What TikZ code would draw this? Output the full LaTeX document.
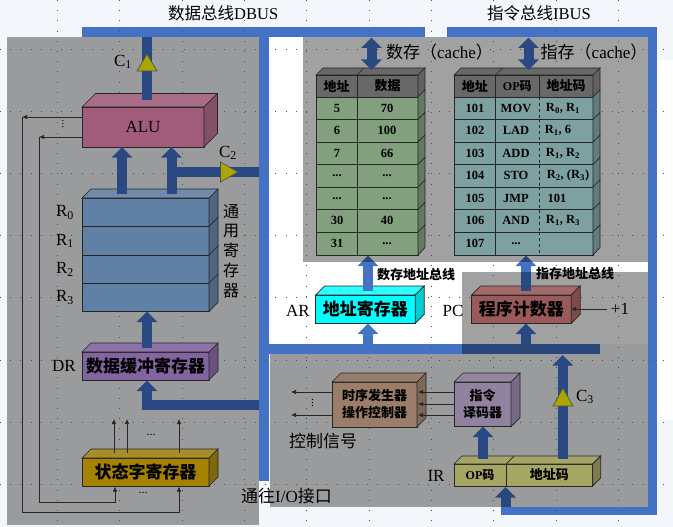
\documentclass[tikz,border=0pt]{standalone}
\usepackage{fontspec}
\setmainfont{Liberation Serif}
\newfontfamily\zhfont{Noto Sans CJK SC}
\usepackage{xcolor}
\usetikzlibrary{positioning,calc,arrows.meta}

\definecolor{busblue}{RGB}{68,114,196}
\definecolor{busdark}{RGB}{42,72,130}
\definecolor{gateyel}{RGB}{170,165,0}
\definecolor{paper}{RGB}{243,246,250}
\definecolor{headgrey}{RGB}{104,104,104}
\definecolor{datagreen}{RGB}{130,160,125}
\definecolor{codeteal}{RGB}{125,160,160}
\definecolor{arcyan}{RGB}{0,255,255}

\newcommand{\sz}[1]{\fontsize{#1}{#1}\selectfont}
\newcommand{\zh}[1]{{\zhfont #1}}
\newcommand{\dts}{...}

% top and side faces behind a node
\newcommand{\boxsides}[4]{%
	\draw[edge, fill=#3] (#1.north west) -- ++(#2,-#2) -- ($(#1.north east)+(#2,-#2)$) -- (#1.north east) -- cycle;
	\draw[edge, fill=#4] (#1.north east) -- ++(#2,-#2) -- ($(#1.south east)+(#2,-#2)$) -- (#1.south east) -- cycle;
}

\tikzset{
	edge/.style={draw=black!85, line width=0.7pt},
	regbox/.style={edge, anchor=north west, inner sep=0pt, outer sep=0pt},
	panel/.style={fill=black, opacity=0.37},
	gridline/.style={black!70, line width=0.6pt, dash pattern=on 0.7pt off 9.5pt},
	busfill/.style={fill=busblue},
	dkarrow/.style={busdark, line width=10pt, -{Triangle[width=20pt,length=10.5pt]}},
	ltarrow/.style={busblue, line width=10pt, -{Triangle[width=20pt,length=10.5pt]}},
	dkboth/.style={busdark, line width=10pt, {Triangle[width=20pt,length=10.5pt]}-{Triangle[width=20pt,length=10.5pt]}},
	sigline/.style={black!85, line width=0.7pt},
	sigarrow/.style={sigline, -{Latex[length=5pt,width=4.5pt]}},
	gate/.style={draw=black!70, line width=0.6pt, fill=gateyel},
	cell/.style={font=\sz{12.5}\bfseries, inner sep=0pt},
	lbl/.style={font=\sz{17}, inner sep=0pt}
}

\begin{document}
\begin{tikzpicture}[x=1pt,y=-1pt,line join=miter]
	\useasboundingbox (0,0) rectangle (673,527);

	% ---- background
	\fill[paper] (0,0) rectangle (673,527);
	\fill[white] (269,37) rectangle (648,344);
	\fill[white] (657,60) rectangle (673,420);

	% ---- buses, the panels darken them
	\fill[busfill] (82,27) rectangle (425,37);
	\fill[busfill] (259,27) rectangle (269,481);
	\fill[busfill] (269,344) rectangle (600,354);
	\fill[busfill] (447,27) rectangle (657,37);
	\fill[busfill] (648,27) rectangle (657,515);
	\fill[busfill] (501,507) rectangle (657,515);

	\coordinate (arT) at (368,291);
	\coordinate (pcT) at (526,291);
	\coordinate (irB) at (505.5,511);
	\draw[ltarrow] (arT) -- (368,255.5);
	\draw[ltarrow] (pcT) -- (526,255.5);
	\draw[ltarrow] (irB) -- (505.5,487);

	% ---- panels
	\fill[panel] (7,37) rectangle (259,525);
	\fill[panel] (303,37) rectangle (648,262);
	\fill[panel] (462,272) rectangle (648,354);
	\fill[panel] (270,354) rectangle (648,507);

	% ---- dotted grid
	\foreach \gx in {57,119.5,182,244,306.5,369,431,493.5,556,618}{
		\draw[gridline] (\gx,0) -- (\gx,527);
	}
	\foreach \gy in {49,111,173,235,297,360,422,484}{
		\draw[gridline] (0,\gy) -- (673,\gy);
	}

	% ---- titles
	\node[lbl, anchor=west, font=\sz{16.5}] (dbusT) at (168,13) {\zh{数据总线}DBUS};
	\node[lbl, anchor=west, font=\sz{16.5}] (ibusT) at (487,13) {\zh{指令总线}IBUS};

	% ---- ALU
	\node[regbox, fill={rgb,255:red,160;green,92;blue,122}, minimum width=122pt, minimum height=40pt, font=\sz{17}] (alu) at (82,107) {ALU};
	\boxsides{alu}{13.5}{{rgb,255:red,168;green,108;blue,134}}{{rgb,255:red,132;green,80;blue,104}}

	% ---- general registers
	\foreach \i/\ry in {0/198,1/226.5,2/255,3/283}{
		\node[regbox, fill={rgb,255:red,96;green,128;blue,165}, minimum width=127pt, minimum height=28.5pt] (r\i) at (82,\ry) {};
		\draw[edge, fill={rgb,255:red,78;green,102;blue,130}] (r\i.north east) -- ++(9,-9) -- ++(0,28.5) -- (r\i.south east) -- cycle;
		\node[lbl] (rn\i) at (65,\ry+14.5) {R\textsubscript{\i}};
	}
	\draw[edge, fill={rgb,255:red,112;green,140;blue,170}] (r0.north west) -- ++(9,-9) -- ($(r0.north east)+(9,-9)$) -- (r0.north east) -- cycle;
	\node[lbl, font=\sz{16}\zhfont, align=center, anchor=north, text width=18pt] (rgT) at (231,204) {通\\[3.8pt]用\\[3.8pt]寄\\[3.8pt]存\\[3.8pt]器};

	% ---- DR
	\node[regbox, fill={rgb,255:red,130;green,100;blue,160}, minimum width=127pt, minimum height=28pt, font=\sz{17}\zhfont\bfseries] (dr) at (82,352) {数据缓冲寄存器};
	\boxsides{dr}{9}{{rgb,255:red,140;green,115;blue,168}}{{rgb,255:red,105;green,82;blue,130}}
	\node[lbl] (drL) at (64,366) {DR};

	% ---- status word
	\node[regbox, fill={rgb,255:red,165;green,130;blue,0}, minimum width=127pt, minimum height=28pt, font=\sz{17}\zhfont\bfseries] (psw) at (82,458) {状态字寄存器};
	\boxsides{psw}{9}{{rgb,255:red,168;green,142;blue,40}}{{rgb,255:red,128;green,104;blue,10}}

	% ---- ALU feedback
	\coordinate (fa) at (22,117);
	\coordinate (fb) at (39,137);
	\coordinate (sa) at (179,486.5);
	\coordinate (sb) at (115,486.5);
	\draw[sigarrow] (alu.west |- fa) -- (fa);
	\draw[sigarrow] (alu.west |- fb) -- (fb);
	\draw[sigarrow] (fa) -- (22,512) -- (179,512) -- (sa);
	\draw[sigarrow] (fb) -- (39,502.5) -- (115,502.5) -- (sb);
	\foreach \sx in {114,127,179}{
		\coordinate (up\sx) at (\sx,453);
		\draw[sigarrow] (up\sx) -- (\sx,419);
	}
	\node[cell, font=\sz{11}] (dotsA) at (63,124) {\rotatebox{90}{...}};
	\node[cell, font=\sz{12}] (dotsB) at (151,435) {...};
	\node[cell, font=\sz{12}] (dotsC) at (143,493) {...};

	% ---- thick connectors, left side
	\coordinate (rgA) at (122,194);
	\coordinate (rgB) at (171.5,194);
	\coordinate (aluT) at (147,100);
	\coordinate (drT) at (147,348);
	\coordinate (drB) at (259,405);
	\draw[busdark, line width=10pt] (aluT) -- (147,37);
	\draw[dkarrow] (rgA) -- (rgA |- alu.south);
	\draw[dkarrow] (rgB) -- (rgB |- alu.south);
	\draw[busdark, line width=10pt] (171.5,172) -- (259,172);
	\draw[dkarrow] (drT) -- (drT |- r3.south);
	\draw[dkarrow] (drB) -- (147,405) -- (147,380.5);

	% ---- gates
	\filldraw[gate] (137,71) -- (147,54) -- (157,71) -- cycle;
	\node[lbl] (c1) at (123,62) {C\textsubscript{1}};
	\filldraw[gate] (220.5,162) -- (238,172) -- (220.5,182) -- cycle;
	\node[lbl] (c2) at (228,153) {C\textsubscript{2}};

	% ---- data cache
	\node[lbl, anchor=west, font=\sz{17}] (dcT) at (386,52) {\zh{数存（}cache\zh{）}};
	\node[regbox, fill=headgrey, minimum width=41pt, minimum height=22pt, font=\sz{13}\zhfont\bfseries] (dh1) at (316,75) {地址};
	\node[regbox, fill=headgrey, minimum width=61pt, minimum height=22pt, font=\sz{13}\zhfont\bfseries] (dh2) at (357,75) {数据};
	\draw[edge, fill=headgrey] (dh1.north west) -- ++(7,-7) -- ($(dh2.north east)+(7,-7)$) -- (dh2.north east) -- cycle;
	\draw[edge] (dh1.north east) -- ++(7,-7);
	\draw[edge, fill=black!62] (dh2.north east) -- ++(7,-7) -- ++(0,22) -- (dh2.south east) -- cycle;
	\foreach \ya/\yb/\ca/\cb [count=\i] in {97/119.5/5/70,119.5/142/6/100,142/164.5/7/66,164.5/187/\dts/\dts,187/209.5/\dts/\dts,209.5/232/30/40,232/255/31/\dts}{
		\draw[edge, fill=datagreen] (316,\ya) rectangle (418,\yb);
		\draw[edge, fill={rgb,255:red,98;green,122;blue,96}] (418,\ya) -- ++(7,-7) -- ++(0,22.5) -- (418,\yb) -- cycle;
		\draw[edge] (357,\ya) -- (357,\yb);
		\node[cell] (da\i) at (337,{(\ya+\yb)/2}) {\ca};
		\node[cell] (db\i) at (387,{(\ya+\yb)/2}) {\cb};
	}

	% ---- instruction cache
	\node[lbl, anchor=west, font=\sz{17}] (icT) at (540.5,52) {\zh{指存（}cache\zh{）}};
	\node[regbox, fill=headgrey, minimum width=41.5pt, minimum height=22pt, font=\sz{13}\zhfont\bfseries] (ih1) at (454,75) {地址};
	\node[regbox, fill=headgrey, minimum width=43.5pt, minimum height=22pt, font=\sz{12}\bfseries] (ih2) at (495.5,75) {OP\zhfont 码};
	\node[regbox, fill=headgrey, minimum width=54pt, minimum height=22pt, font=\sz{13}\zhfont\bfseries] (ih3) at (539,75) {地址码};
	\draw[edge, fill=headgrey] (ih1.north west) -- ++(7,-7) -- ($(ih3.north east)+(7,-7)$) -- (ih3.north east) -- cycle;
	\draw[edge] (ih1.north east) -- ++(7,-7);
	\draw[edge, fill=black!62] (ih3.north east) -- ++(7,-7) -- ++(0,22) -- (ih3.south east) -- cycle;
	\foreach \ya/\yb/\ca/\cb/\cc/\cx [count=\i] in {97/119.5/101/MOV/{R\textsubscript{0}, R\textsubscript{1}}/563,
		119.5/142/102/LAD/{R\textsubscript{1}, 6}/558,
		142/164.5/103/ADD/{R\textsubscript{1}, R\textsubscript{2}}/563,
		164.5/187/104/STO/{R\textsubscript{2}, (R\textsubscript{3})}/568,
		187/209.5/105/JMP/101/557,
		209.5/232/106/AND/{R\textsubscript{1}, R\textsubscript{3}}/563,
		232/255/107/\dts/{}/563}{
		\draw[edge, fill=codeteal] (454,\ya) rectangle (593,\yb);
		\draw[edge, fill={rgb,255:red,96;green,126;blue,126}] (593,\ya) -- ++(7,-7) -- ++(0,22.5) -- (593,\yb) -- cycle;
		\draw[edge] (495.5,\ya) -- (495.5,\yb);
		\draw[edge, dashed, line width=0.6pt] (539,\ya) -- (539,\yb);
		\node[cell] (ia\i) at (475,{(\ya+\yb)/2}) {\ca};
		\node[cell] (ib\i) at (516,{(\ya+\yb)/2}) {\cb};
		\node[cell] (ic\i) at (\cx,{(\ya+\yb)/2}) {\cc};
	}
	\draw[edge, dashed, line width=0.6pt] (539,75) -- (539,97);

	% ---- cache links
	\coordinate (dcA) at (371.5,37.5);
	\coordinate (icA) at (528.5,37.5);
	\draw[dkboth] (dcA) -- (371.5,70);
	\draw[dkboth] (icA) -- (528.5,70);

	% ---- AR and PC
	\node[regbox, fill=arcyan, minimum width=99.5pt, minimum height=28.5pt, font=\sz{17}\zhfont\bfseries] (ar) at (315.7,295) {地址寄存器};
	\boxsides{ar}{9}{{rgb,255:red,45;green,255;blue,255}}{{rgb,255:red,0;green,205;blue,205}}
	\node[regbox, fill={rgb,255:red,155;green,90;blue,90}, minimum width=99.5pt, minimum height=28.5pt, font=\sz{17}\zhfont\bfseries] (pc) at (471.7,295) {程序计数器};
	\boxsides{pc}{9}{{rgb,255:red,165;green,106;blue,106}}{{rgb,255:red,128;green,74;blue,74}}
	\node[lbl] (arL) at (298,311) {AR};
	\node[lbl] (pcL) at (453,311) {PC};
	\node[lbl] (inc) at (620,309) {+1};
	\draw[sigarrow] (606.5,309) -- (pc.east |- inc);
	\draw[busblue, line width=10pt] (arT) -- (368,272);
	\draw[busdark, line width=10pt] (pcT) -- (526,272);
	\node[lbl, anchor=west, font=\sz{13}\zhfont\bfseries] (arBus) at (377,275) {数存地址总线};
	\node[lbl, anchor=west, font=\sz{13}\zhfont\bfseries] (pcBus) at (536,274) {指存地址总线};
	\draw[ltarrow] (368,344) -- (368,0 |- ar.south);
	\draw[dkarrow] (526,344) -- (526,0 |- pc.south);

	% ---- control unit
	\node[regbox, fill={rgb,255:red,155;green,125;blue,105}, minimum width=85pt, minimum height=45pt, font=\sz{13}\zhfont\bfseries, align=center] (ctl) at (332,382) {时序发生器\\[4pt]操作控制器};
	\boxsides{ctl}{9}{{rgb,255:red,150;green,125;blue,108}}{{rgb,255:red,128;green,102;blue,86}}
	\node[regbox, fill={rgb,255:red,145;green,130;blue,160}, minimum width=57pt, minimum height=44.5pt, font=\sz{13}\zhfont\bfseries, align=center] (dec) at (454,382) {指令\\[4pt]译码器};
	\boxsides{dec}{9}{{rgb,255:red,148;green,134;blue,160}}{{rgb,255:red,120;green,106;blue,132}}
	\foreach \cy in {392,404,415}{
		\draw[sigarrow] (dec.west |- 0,\cy) -- (418,\cy);
	}
	\foreach \cy in {392,415}{
		\draw[sigarrow] (ctl.west |- 0,\cy) -- (291,\cy);
	}
	\node[cell, font=\sz{12}] (dotsD) at (312.5,403) {\rotatebox{90}{...}};
	\node[lbl, font=\sz{17}\zhfont] (ctlL) at (323,441) {控制信号};

	% ---- IR
	\node[regbox, fill={rgb,255:red,165;green,165;blue,100}, minimum width=52pt, minimum height=22pt, font=\sz{12}\bfseries] (irA) at (454,464) {OP\zhfont 码};
	\node[regbox, fill={rgb,255:red,165;green,165;blue,100}, minimum width=86.7pt, minimum height=22pt, font=\sz{13}\zhfont\bfseries] (irD) at (506,464) {地址码};
	\draw[edge, fill={rgb,255:red,165;green,165;blue,105}] (irA.north west) -- ++(8,-8) -- ($(irD.north east)+(8,-8)$) -- (irD.north east) -- cycle;
	\draw[edge] (irA.north east) -- ++(8,-8);
	\draw[edge, fill={rgb,255:red,125;green,125;blue,78}] (irD.north east) -- ++(8,-8) -- ++(0,22) -- (irD.south east) -- cycle;
	\node[lbl] (irL) at (436,476) {IR};

	\coordinate (irT) at (483,459);
	\coordinate (irC) at (562.7,459);
	\draw[dkarrow] (irT) -- (irT |- dec.south);
	\draw[dkarrow] (irC) -- (562.7,355);
	\filldraw[gate] (553,406) -- (563,388) -- (573,406) -- cycle;
	\node[lbl] (c3) at (585,397) {C\textsubscript{3}};

	\node[lbl, anchor=west, font=\sz{17}] (ioL) at (241,496) {\zh{通往}I/O\zh{接口}};
\end{tikzpicture}
\end{document}
